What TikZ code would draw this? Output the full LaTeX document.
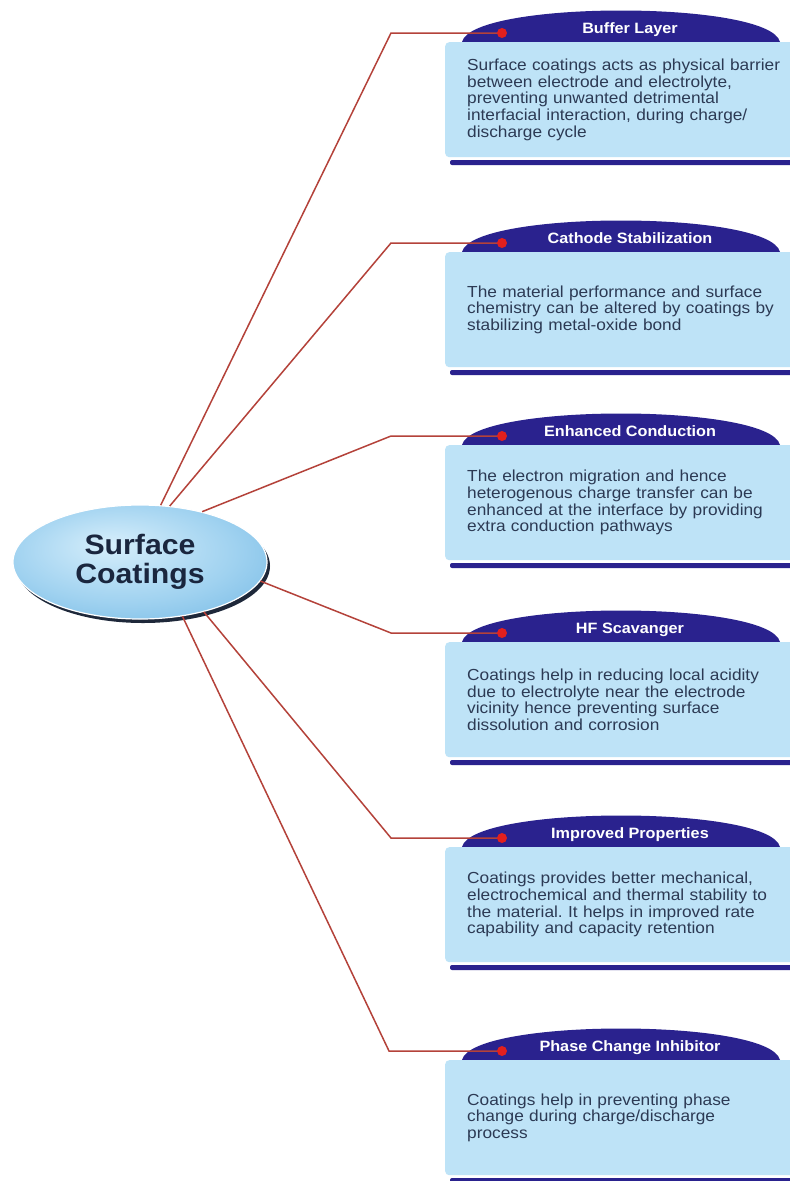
\documentclass[tikz,border=0pt]{standalone}
\usepackage{fontspec}
\setmainfont{Liberation Sans}[FakeStretch=1.08]
\usepackage{xcolor}
\usepackage{tikz}
\usetikzlibrary{shapes.geometric,positioning,calc}
\frenchspacing

\definecolor{domeblue}{RGB}{42,34,142}
\definecolor{boxblue}{RGB}{190,227,247}
\definecolor{bodyink}{RGB}{44,58,84}
\definecolor{linkred}{RGB}{180,66,58}
\definecolor{dotred}{RGB}{226,32,30}
\definecolor{corein}{RGB}{214,238,251}
\definecolor{coremid}{RGB}{160,210,240}
\definecolor{coreout}{RGB}{84,166,220}
\definecolor{coreink}{RGB}{26,38,62}
\definecolor{coreshade}{RGB}{30,40,58}
\pgfdeclareradialshading{coreglow}{\pgfpoint{-6bp}{8bp}}{color(0bp)=(corein); color(22bp)=(coremid); color(50bp)=(coreout)}

\begin{document}
\begin{tikzpicture}[x=1pt, y=-1pt,
  core/.style={ellipse, draw=white, line width=1.2pt, shading=coreglow,
               minimum width=254pt, minimum height=114pt, inner sep=0pt,
               align=center, text=coreink, font=\fontsize{28}{29}\selectfont\bfseries},
  head/.style={anchor=base, text=white, font=\fontsize{15}{16}\selectfont\bfseries},
  body/.style={anchor=north west, fill=boxblue, rounded corners=4pt,
               minimum height=115pt, text width=320pt, inner xsep=22pt,
               align=left, text=bodyink, font=\fontsize{16}{16.7}\selectfont},
  dome/.style={fill=domeblue},
  bar/.style={fill=domeblue, rounded corners=2pt},
  link/.style={draw=linkred, line width=1.5pt},
  dot/.style={circle, fill=dotred, minimum size=10pt, inner sep=0pt}
]
\path[use as bounding box, fill=white] (0,0) rectangle (790,1181);
% Buffer Layer
\fill[dome] (462,42) .. controls (472,0) and (770,0) .. (780,42) -- cycle;
\node[head] (h1) at (630,33) {Buffer Layer};
\node[body] (b1) at (445,42) {Surface coatings acts as physical barrier\\between electrode and electrolyte,\\preventing unwanted detrimental\\interfacial interaction, during charge/\\discharge cycle};
\fill[bar] (450,160) rectangle (800,165);
% Cathode Stabilization
\fill[dome] (462,252) .. controls (472,210) and (770,210) .. (780,252) -- cycle;
\node[head] (h2) at (630,243) {Cathode Stabilization};
\node[body] (b2) at (445,252) {The material performance and surface\\chemistry can be altered by coatings by\\stabilizing metal-oxide bond};
\fill[bar] (450,370) rectangle (800,375);
% Enhanced Conduction
\fill[dome] (462,445) .. controls (472,403) and (770,403) .. (780,445) -- cycle;
\node[head] (h3) at (630,436) {Enhanced Conduction};
\node[body] (b3) at (445,445) {The electron migration and hence\\heterogenous charge transfer can be\\enhanced at the interface by providing\\extra conduction pathways};
\fill[bar] (450,563) rectangle (800,568);
% HF Scavanger
\fill[dome] (462,642) .. controls (472,600) and (770,600) .. (780,642) -- cycle;
\node[head] (h4) at (630,633) {HF Scavanger};
\node[body] (b4) at (445,642) {Coatings help in reducing local acidity\\due to electrolyte near the electrode\\vicinity hence preventing surface\\dissolution and corrosion};
\fill[bar] (450,760) rectangle (800,765);
% Improved Properties
\fill[dome] (462,847) .. controls (472,805) and (770,805) .. (780,847) -- cycle;
\node[head] (h5) at (630,838) {Improved Properties};
\node[body] (b5) at (445,847) {Coatings provides better mechanical,\\electrochemical and thermal stability to\\the material. It helps in improved rate\\capability and capacity retention};
\fill[bar] (450,965) rectangle (800,970);
% Phase Change Inhibitor
\fill[dome] (462,1060) .. controls (472,1018) and (770,1018) .. (780,1060) -- cycle;
\node[head] (h6) at (630,1051) {Phase Change Inhibitor};
\node[body] (b6) at (445,1060) {Coatings help in preventing phase\\change during charge/discharge\\process};
\fill[bar] (450,1178) rectangle (800,1183);
% Centre
\fill[coreshade] (143,566) ellipse [x radius=127, y radius=57];
\node[core] (core) at (140,562) {Surface\\Coatings};
% Connections
\coordinate (k1) at (391,33);
\coordinate (k2) at (391,243);
\coordinate (k3) at (391,436);
\coordinate (k4) at (391,633);
\coordinate (k5) at (391,838);
\coordinate (k6) at (389,1051);
\draw[link] (core.70) -- (k1) -- (502,33);
\draw[link] (core.62) -- (k2) -- (502,243);
\draw[link] (core.39) -- (k3) -- (502,436);
\draw[link] (core.-9) -- (k4) -- (502,633);
\draw[link] (core.-38) -- (k5) -- (502,838);
\draw[link] (core.-52) -- (k6) -- (502,1051);
\node[dot] (d1) at (502,33) {};
\node[dot] (d2) at (502,243) {};
\node[dot] (d3) at (502,436) {};
\node[dot] (d4) at (502,633) {};
\node[dot] (d5) at (502,838) {};
\node[dot] (d6) at (502,1051) {};
\end{tikzpicture}
\end{document}
